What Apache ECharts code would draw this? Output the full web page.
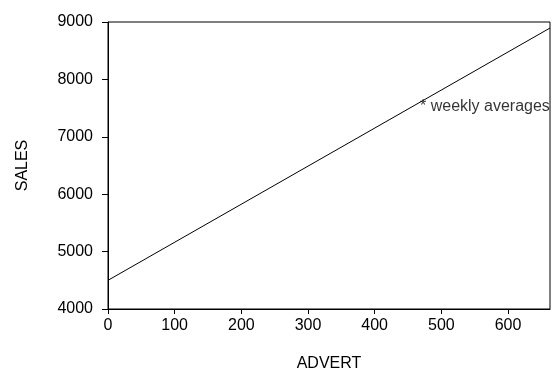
<!DOCTYPE html>
<html>
<head>
<meta charset="utf-8">
<script src="https://cdn.jsdelivr.net/npm/echarts@6/dist/echarts.min.js"></script>
<style>
  html, body { margin: 0; padding: 0; background: #fff; }
  #chart { width: 555px; height: 378px; }
</style>
</head>
<body>
<div id="chart"></div>
<script>
// Fitted regression of weekly SALES on ADVERT spending
const advertRange = [0, 663];          // x extent of the fitted line
const salesFit = [4500, 8895];         // fitted SALES at each end of that range
const xTicks = [0, 100, 200, 300, 400, 500, 600];
const yTicks = [4000, 5000, 6000, 7000, 8000, 9000];
const noteText = '* weekly averages';
const notePoint = [468, 7520];         // where the note sits, in data units

const font = '"Liberation Sans", Arial, sans-serif';
const fontSize = 16;

const chart = echarts.init(document.getElementById('chart'), null, { renderer: 'canvas' });

const linePoints = advertRange.map((x, i) => [x, salesFit[i]]);
const plain = v => String(v);

chart.setOption({
  animation: false,
  backgroundColor: '#ffffff',
  textStyle: { fontFamily: font, color: '#000' },
  grid: {
    left: 108, top: 22, right: 5, bottom: 69,
    show: true, borderColor: '#000', borderWidth: 1, backgroundColor: 'transparent'
  },
  xAxis: {
    type: 'value',
    min: advertRange[0], max: advertRange[1],
    interval: 100,
    name: 'ADVERT',
    nameLocation: 'middle',
    nameGap: 47,
    nameTextStyle: { fontFamily: font, fontSize: fontSize, color: '#000' },
    axisLine: { show: true, onZero: false, lineStyle: { color: '#000', width: 1 } },
    axisTick: { show: true, length: 5, inside: false, customValues: xTicks, lineStyle: { color: '#000' } },
    axisLabel: { customValues: xTicks, formatter: plain, margin: 9, fontFamily: font, fontSize: fontSize, color: '#000' },
    splitLine: { show: false }
  },
  yAxis: {
    type: 'value',
    min: yTicks[0], max: yTicks[yTicks.length - 1],
    interval: 1000,
    name: 'SALES',
    nameLocation: 'middle',
    nameGap: 77,
    nameTextStyle: { fontFamily: font, fontSize: fontSize, color: '#000' },
    axisLine: { show: true, onZero: false, lineStyle: { color: '#000', width: 1 } },
    axisTick: { show: true, length: 6, inside: false, lineStyle: { color: '#000' } },
    axisLabel: { formatter: plain, margin: 15, fontFamily: font, fontSize: fontSize, color: '#000' },
    splitLine: { show: false }
  },
  series: [
    {
      type: 'line',
      data: linePoints,
      symbol: 'none',
      lineStyle: { color: '#000', width: 1 },
      silent: true
    },
    {
      type: 'scatter',
      data: [notePoint],
      symbolSize: 0,
      silent: true,
      label: {
        show: true,
        position: 'right',
        distance: 0,
        formatter: noteText,
        fontFamily: font,
        fontSize: fontSize,
        color: '#000'
      }
    }
  ]
});
</script>
</body>
</html>
